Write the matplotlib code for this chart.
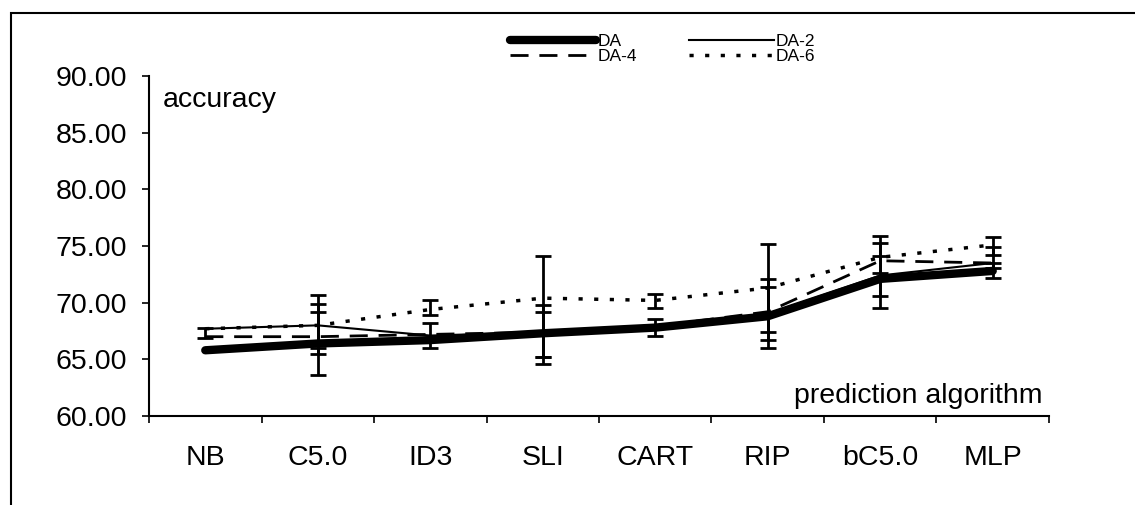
import numpy as np
import matplotlib.pyplot as plt
from matplotlib.patches import Rectangle

plt.rcParams['font.family'] = ['Liberation Sans', 'DejaVu Sans']

# Data
algorithms = ['NB', 'C5.0', 'ID3', 'SLI', 'CART', 'RIP', 'bC5.0', 'MLP']
acc_da = [65.8, 66.4, 66.7, 67.3, 67.8, 68.8, 72.1, 72.8]
acc_da2 = [67.7, 68.0, 67.1, 67.4, 67.8, 69.0, 72.4, 73.5]
acc_da4 = [67.0, 67.0, 67.2, 67.4, 67.9, 69.2, 73.7, 73.5]
acc_da6 = [67.7, 68.0, 69.4, 70.4, 70.2, 71.3, 74.0, 75.1]

# error bar ends (low, high); nan = no bar drawn
nan = np.nan
lo_da = [nan, 63.6, nan, 64.6, 67.1, nan, 69.5, 72.2]
hi_da = [nan, 69.2, nan, 74.1, 68.6, nan, 75.9, 73.5]
lo_da2 = [nan, 65.5, 66.0, 65.2, nan, 67.4, 70.6, nan]
hi_da2 = [nan, 70.7, 68.2, 69.2, nan, 72.1, 74.1, nan]
lo_da4 = [66.9, 66.0, nan, 65.2, nan, 66.7, 72.6, 73.1]
hi_da4 = [67.8, 69.9, nan, 69.8, nan, 71.4, 75.3, 74.9]
lo_da6 = [nan, nan, 68.9, nan, 69.5, 66.0, nan, 74.2]
hi_da6 = [nan, nan, 70.2, nan, 70.8, 75.2, nan, 75.8]

x = np.arange(len(algorithms))

fig = plt.figure(figsize=(11.35, 5.05), dpi=100)
ax = fig.add_axes([0.1313, 0.1762, 0.7929, 0.6733])

series = [
    ('DA', acc_da, lo_da, hi_da, dict(lw=6, ls='-', solid_capstyle='round')),
    ('DA-4', acc_da4, lo_da4, hi_da4, dict(lw=2, ls=(0, (6.5, 3.9)))),
    ('DA-2', acc_da2, lo_da2, hi_da2, dict(lw=1.5, ls='-')),
    ('DA-6', acc_da6, lo_da6, hi_da6, dict(lw=2.5, ls=(0, (1.2, 3.3)))),
]

handles = []
for name, vals, lo, hi, style in series:
    vals = np.array(vals)
    lo = np.array(lo)
    hi = np.array(hi)
    h, = ax.plot(x, vals, color='black', label=name, **style)
    handles.append(h)
    m = ~np.isnan(lo)
    ax.errorbar(x[m], vals[m], yerr=[vals[m] - lo[m], hi[m] - vals[m]],
                fmt='none', ecolor='black', elinewidth=2, capsize=6, capthick=2)

ax.set_xlim(-0.5, len(algorithms) - 0.5)
ax.set_ylim(60, 90)
ax.set_yticks(np.arange(60, 91, 5))
ax.set_yticklabels(['%.2f' % v for v in np.arange(60, 91, 5)])
ax.set_xticks(x)
ax.set_xticklabels(algorithms)
ax.set_xticks(np.arange(-0.5, len(algorithms)), minor=True)
ax.tick_params(axis='x', which='major', length=0, pad=21, labelsize=20.5)
ax.tick_params(axis='x', which='minor', length=5, width=1.2, direction='out')
ax.tick_params(axis='y', length=5, width=1.2, pad=11, labelsize=20.5)
for s in ['top', 'right']:
    ax.spines[s].set_visible(False)
for s in ['left', 'bottom']:
    ax.spines[s].set_linewidth(1.5)

ax.text(0.015, 0.93, 'accuracy', transform=ax.transAxes, fontsize=20.5, va='center')
ax.text(0.993, 0.06, 'prediction algorithm', transform=ax.transAxes, fontsize=20.5,
        ha='right', va='center')

ax.legend(handles=handles, ncol=2, frameon=False, fontsize=12.5,
          loc='center', bbox_to_anchor=(0.584, 0.903), bbox_transform=fig.transFigure,
          handlelength=4.9, handletextpad=0.1, columnspacing=3.0,
          labelspacing=0.0, borderpad=0)

# outer frame (top and left only visible)
fig.add_artist(Rectangle((0.0097, -0.1), 1.2, 1.074, transform=fig.transFigure,
                         fill=False, lw=1.5, ec='black'))

fig.savefig('out.png', dpi=100)
